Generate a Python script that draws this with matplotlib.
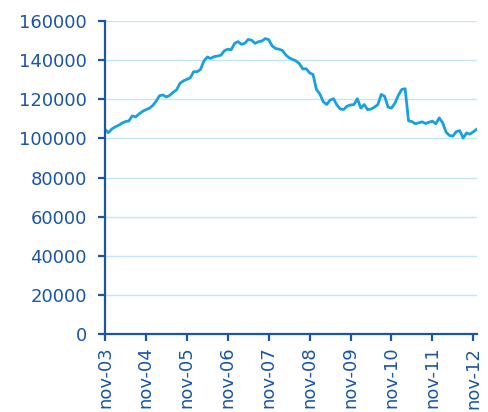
import matplotlib
matplotlib.use('Agg')
import matplotlib.pyplot as plt

# monthly values, nov-03 .. dec-12
values = [104700, 102900, 104800, 105900, 106700, 107800, 108600, 108900, 111500, 111000,
          112500, 113800, 114700, 115400, 116800, 119000, 121800, 122200, 121200, 122000,
          123600, 124800, 128200, 129400, 130200, 130900, 134100, 134100, 135200, 139500,
          141600, 140900, 141800, 142100, 142500, 144800, 145600, 145300, 148500, 149500,
          148100, 148600, 150600, 150200, 148600, 149400, 149800, 151000, 150500, 147300,
          146000, 145600, 145000, 142700, 141200, 140400, 139600, 138200, 135500, 135600,
          133500, 132700, 125000, 122700, 118800, 117300, 119600, 120300, 117100, 115000,
          114800, 116500, 117100, 117300, 120300, 115500, 117300, 114700, 115000, 116000,
          117300, 122500, 121500, 116000, 115500, 118000, 122000, 125000, 125400, 109000,
          108600, 107500, 108000, 108500, 107600, 108300, 108800, 107500, 110500, 108000,
          103200, 101500, 101200, 103500, 104000, 100200, 102800, 102200, 103400, 104700]
tick_labels = ['nov-03', 'nov-04', 'nov-05', 'nov-06', 'nov-07',
               'nov-08', 'nov-09', 'nov-10', 'nov-11', 'nov-12']
y_ticks = [0, 20000, 40000, 60000, 80000, 100000, 120000, 140000, 160000]

dark = '#1a55a8'
line_col = '#17a1e2'
grid_col = '#c3e7f7'

fig = plt.figure(figsize=(4.88, 4.12), dpi=100)
ax = fig.add_axes([0.215, 0.189, 0.762, 0.760])

x = list(range(len(values)))
ax.plot(x, values, color=line_col, linewidth=2)

ax.set_xlim(0, len(values) - 1)
ax.set_ylim(0, 160000)
ax.set_yticks(y_ticks)
ax.set_yticklabels([str(v) for v in y_ticks])
ax.set_xticks([12 * i for i in range(len(tick_labels))])
ax.set_xticklabels(tick_labels, rotation=90)

ax.grid(axis='y', color=grid_col, linewidth=1)
ax.set_axisbelow(True)
for s in ['top', 'right']:
    ax.spines[s].set_visible(False)
for s in ['left', 'bottom']:
    ax.spines[s].set_color(dark)
    ax.spines[s].set_linewidth(1.6)

ax.tick_params(axis='y', colors=dark, labelsize=13, length=5, width=1.6, pad=8)
ax.tick_params(axis='x', colors=dark, labelsize=13, length=5, width=1.6, pad=4)

fig.savefig('out.png', dpi=100)
